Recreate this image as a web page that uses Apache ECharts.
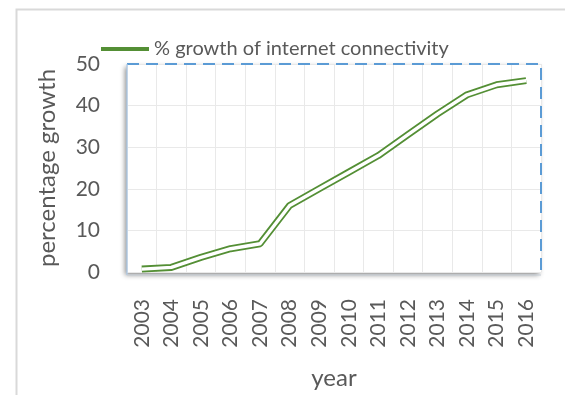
<!DOCTYPE html>
<html><head><meta charset="utf-8">
<script src="https://cdn.jsdelivr.net/npm/echarts@6/dist/echarts.min.js"></script>
<style>html,body{margin:0;padding:0;background:#fff}#c{width:565px;height:395px}</style>
</head><body><div id="c"></div>
<script>
const years = ['2003','2004','2005','2006','2007','2008','2009','2010','2011','2012','2013','2014','2015','2016'];
const growth = [0.7, 1.1, 3.5, 5.6, 6.8, 16.0, 20.0, 24.0, 28.0, 33.0, 38.0, 42.6, 45.0, 46.0];
const yTicks = [0, 10, 20, 30, 40, 50];
const seriesName = '% growth of internet connectivity';

const FONT = 'Lato';
const TXT = '#595959';
const GREEN = '#548f35';
const G = {left: 127, top: 64, right: 24, bottom: 120};
const W = 565 - G.left - G.right, H = 395 - G.top - G.bottom;

const chart = echarts.init(document.getElementById('c'), null, {renderer: 'canvas'});
chart.setOption({
  animation: false,
  textStyle: {fontFamily: FONT},
  grid: {left: G.left, top: G.top, right: G.right, bottom: G.bottom, show: true,
    backgroundColor: '#fff', borderWidth: 0,
    shadowBlur: 5, shadowColor: 'rgba(0,0,0,0.45)', shadowOffsetX: -2, shadowOffsetY: 3},
  legend: {data: [seriesName], left: 96, top: 34, itemWidth: 48, itemHeight: 4, icon: 'rect',
    itemStyle: {color: GREEN},
    textStyle: {fontFamily: FONT, fontSize: 20, color: TXT}},
  xAxis: {type: 'category', data: years, boundaryGap: true,
    name: 'year', nameLocation: 'middle', nameGap: 94,
    nameTextStyle: {fontFamily: FONT, fontSize: 24, color: TXT},
    axisLine: {show: false}, axisTick: {show: false},
    axisLabel: {rotate: 90, margin: 27, fontFamily: FONT, fontSize: 21, color: TXT, interval: 0},
    splitLine: {show: true, interval: 0, lineStyle: {color: '#e9e9e9', width: 1}}},
  yAxis: {type: 'value', min: 0, max: 50, interval: 10,
    name: 'percentage growth', nameLocation: 'middle', nameGap: 68, nameRotate: 90,
    nameTextStyle: {fontFamily: FONT, fontSize: 24, color: TXT},
    axisLine: {show: false}, axisTick: {show: false},
    axisLabel: {margin: 27, fontFamily: FONT, fontSize: 21, color: TXT,
      formatter: v => yTicks.includes(v) ? String(v) : ''},
    splitLine: {show: true, lineStyle: {color: '#e9e9e9', width: 1}}},
  graphic: [
    {type: 'rect', left: 14, top: 7, z: -10, silent: true,
      shape: {width: 600, height: 420}, style: {fill: 'none', stroke: '#d9d9d9', lineWidth: 2}},
    {type: 'polyline', z: 100, silent: true,
      shape: {points: [[G.left, G.top], [G.left + W, G.top], [G.left + W, G.top + H]]},
      style: {fill: 'none', stroke: '#5b9bd5', lineWidth: 2, lineDash: [12, 7]}},
    {type: 'polyline', z: 100, silent: true,
      shape: {points: [[G.left, G.top], [G.left, G.top + H]]},
      style: {fill: 'none', stroke: '#a9c8e8', lineWidth: 1.2}},
    {type: 'polyline', z: 100, silent: true,
      shape: {points: [[G.left, G.top + H], [G.left + W, G.top + H]]},
      style: {fill: 'none', stroke: '#c8cfd8', lineWidth: 1.2}}
  ],
  series: [
    {name: seriesName, type: 'line', data: growth, symbol: 'none', z: 3,
      lineStyle: {color: GREEN, width: 7}, itemStyle: {color: GREEN}},
    {name: 'inner', type: 'line', data: growth, symbol: 'none', z: 4,
      lineStyle: {color: '#ffffff', width: 3.4}, itemStyle: {color: '#fff'}}
  ]
});
</script></body></html>
